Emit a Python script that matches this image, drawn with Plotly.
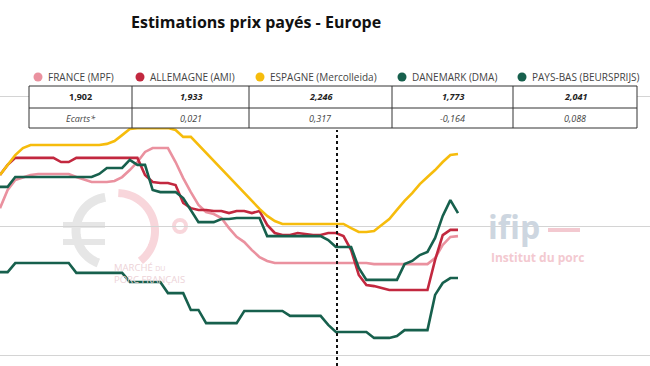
import math
import plotly.graph_objects as go

W, H = 650, 366

# ---------------- data ----------------
semaines = list(range(61))

france = [2.069, 2.139, 2.178, 2.189, 2.197, 2.201, 2.201, 2.201, 2.201, 2.201,
          2.189, 2.178, 2.170, 2.170, 2.170, 2.174, 2.189, 2.216, 2.247, 2.286,
          2.301, 2.301, 2.301, 2.247, 2.185, 2.131, 2.081, 2.054, 2.046, 2.031,
          1.992, 1.958, 1.938, 1.907, 1.880, 1.865, 1.857, 1.857, 1.857, 1.857,
          1.857, 1.857, 1.857, 1.857, 1.857, 1.857, 1.857, 1.857, 1.857, 1.853,
          1.853, 1.853, 1.853, 1.853, 1.853, 1.853, 1.853, 1.876, 1.927, 1.958,
          1.961]

allemagne = [2.197, 2.236, 2.263, 2.263, 2.263, 2.263, 2.263, 2.263, 2.247, 2.247,
             2.263, 2.263, 2.263, 2.263, 2.263, 2.263, 2.263, 2.263, 2.263, 2.197,
             2.170, 2.166, 2.166, 2.158, 2.089, 2.069, 2.062, 2.062, 2.058, 2.058,
             2.050, 2.058, 2.058, 2.050, 2.058, 2.004, 1.973, 1.965, 1.965, 1.973,
             1.969, 1.965, 1.965, 1.973, 1.973, 1.961, 1.907, 1.811, 1.772, 1.768,
             1.761, 1.753, 1.753, 1.753, 1.753, 1.753, 1.753, 1.869, 1.965, 1.985,
             1.985]

espagne = [2.197, 2.236, 2.274, 2.301, 2.313, 2.313, 2.313, 2.313, 2.313, 2.313,
           2.313, 2.313, 2.313, 2.313, 2.317, 2.328, 2.351, 2.375, 2.378, 2.378,
           2.378, 2.378, 2.378, 2.371, 2.344, 2.344, 2.313, 2.282, 2.251, 2.220,
           2.189, 2.158, 2.127, 2.097, 2.066, 2.039, 2.019, 2.008, 2.008, 2.008,
           2.008, 2.008, 2.008, 2.008, 2.008, 2.008, 1.992, 1.977, 1.977, 1.981,
           2.004, 2.027, 2.062, 2.097, 2.127, 2.162, 2.189, 2.216, 2.247, 2.274,
           2.278]

danemark = [1.822, 1.822, 1.857, 1.857, 1.857, 1.857, 1.857, 1.857, 1.857, 1.857,
            1.819, 1.819, 1.819, 1.819, 1.819, 1.819, 1.819, 1.784, 1.784, 1.784,
            1.784, 1.784, 1.741, 1.741, 1.741, 1.676, 1.676, 1.625, 1.625, 1.625,
            1.625, 1.625, 1.672, 1.672, 1.672, 1.672, 1.672, 1.672, 1.653, 1.653,
            1.653, 1.653, 1.653, 1.618, 1.591, 1.591, 1.591, 1.591, 1.591, 1.568,
            1.568, 1.568, 1.575, 1.598, 1.598, 1.598, 1.598, 1.734, 1.780, 1.799,
            1.799]

pays_bas = [2.151, 2.151, 2.189, 2.189, 2.189, 2.189, 2.189, 2.189, 2.189, 2.189,
            2.189, 2.189, 2.189, 2.201, 2.224, 2.224, 2.224, 2.255, 2.236, 2.236,
            2.139, 2.131, 2.131, 2.131, 2.108, 2.062, 2.015, 2.015, 2.015, 2.027,
            2.027, 2.031, 2.031, 2.031, 2.031, 1.961, 1.961, 1.961, 1.961, 1.961,
            1.961, 1.961, 1.961, 1.946, 1.919, 1.919, 1.919, 1.838, 1.792, 1.792,
            1.792, 1.792, 1.792, 1.853, 1.865, 1.888, 1.900, 1.954, 2.039, 2.100,
            2.050]

pays = ["FRANCE (MPF)", "ALLEMAGNE (AMI)", "ESPAGNE (Mercolleida)",
        "DANEMARK (DMA)", "PAYS-BAS (BEURSPRIJS)"]
series = [france, allemagne, espagne, danemark, pays_bas]
couleurs = ["#ea919f", "#c2283f", "#f6bc0c", "#17604d", "#17604d"]

prix_table = ["1,902", "1,933", "2,246", "1,773", "2,041"]
ecarts = ["Ecarts*", "0,021", "0,317", "-0,164", "0,088"]

semaine_repere = 44.15

# ---------------- helpers (pixel -> paper) ----------------
def px(x):
    return x / W

def py(y):
    return 1 - y / H

fig = go.Figure()
for nom, vals, col in zip(pays, series, couleurs):
    fig.add_trace(go.Scatter(x=semaines, y=vals, mode="lines", name=nom,
                             line=dict(color=col, width=2.6),
                             showlegend=False, hoverinfo="skip"))

shapes = []
annotations = []

# watermark: euro logo
def arc_path(cx, cy, r, a0, a1, n=48):
    pts = []
    for k in range(n + 1):
        a = math.radians(a0 + (a1 - a0) * k / n)
        pts.append((px(cx + r * math.cos(a)), py(cy - r * math.sin(a))))
    return "M " + " L ".join(f"{x:.5f},{y:.5f}" for x, y in pts)

shapes.append(dict(type="path", xref="paper", yref="paper", layer="below",
                   path=arc_path(110, 231, 34, 98, 250),
                   line=dict(color="#e6e6e6", width=9)))
for (y0, y1) in [(222, 228), (239, 245)]:
    shapes.append(dict(type="rect", xref="paper", yref="paper", layer="below",
                       x0=px(63), x1=px(105), y0=py(y1), y1=py(y0),
                       fillcolor="#e6e6e6", line=dict(width=0)))
shapes.append(dict(type="path", xref="paper", yref="paper", layer="below",
                   path=arc_path(117, 231, 38, 88, -52),
                   line=dict(color="#f8d6db", width=8)))
shapes.append(dict(type="circle", xref="paper", yref="paper", layer="below",
                   x0=px(174), x1=px(186), y0=py(232), y1=py(220),
                   line=dict(color="#f8d6db", width=4)))
annotations.append(dict(text="MARCHÉ <span style='font-size:7px'>DU</span><br>PORC FRANÇAIS",
                        x=px(112), y=py(273), xref="paper", yref="paper",
                        xanchor="left", yanchor="middle", align="left", showarrow=False,
                        font=dict(family="Open Sans", size=9.5, color="#edd3d8")))

# watermark: ifip
annotations.append(dict(text="<b>ifip</b>", x=px(486), y=py(226), xref="paper", yref="paper",
                        xanchor="left", yanchor="middle", showarrow=False,
                        font=dict(family="Open Sans", size=32, color="#cdd6e0")))
shapes.append(dict(type="line", xref="paper", yref="paper", layer="below",
                   x0=px(548), x1=px(580), y0=py(230), y1=py(230),
                   line=dict(color="#f3c9d0", width=4)))
annotations.append(dict(text="<b>Institut du porc</b>", x=px(489), y=py(257),
                        xref="paper", yref="paper", xanchor="left", yanchor="middle",
                        showarrow=False,
                        font=dict(family="Open Sans", size=12, color="#f3c9d0")))

# vertical dotted marker
shapes.append(dict(type="line", xref="x", yref="paper",
                   x0=semaine_repere, x1=semaine_repere, y0=0, y1=py(130),
                   line=dict(color="#111111", width=2, dash="dot")))

# title
annotations.append(dict(text="<b>Estimations prix payés - Europe</b>",
                        x=px(256), y=py(22), xref="paper", yref="paper",
                        xanchor="center", yanchor="middle", showarrow=False,
                        font=dict(family="Open Sans", size=16, color="#111111")))

# legend
legend_x = [38, 140, 260, 402, 522]
for lx, nom, col in zip(legend_x, pays, couleurs):
    shapes.append(dict(type="circle", xref="paper", yref="paper",
                       x0=px(lx - 4.5), x1=px(lx + 4.5), y0=py(81.5), y1=py(72.5),
                       fillcolor=col, line=dict(width=0)))
    annotations.append(dict(text=nom, x=px(lx + 8), y=py(77), xref="paper", yref="paper",
                            xanchor="left", yanchor="middle", showarrow=False,
                            font=dict(family="Open Sans", size=10, color="#444444")))

# table
tx0, tx1, ty0, tmid, ty1 = 29, 637, 86, 108, 128
col_edges = [29, 132, 249, 392, 513, 637]
shapes.append(dict(type="rect", xref="paper", yref="paper", layer="above",
                   x0=px(tx0), x1=px(tx1), y0=py(ty1), y1=py(ty0),
                   fillcolor="white", line=dict(color="#333333", width=1)))
shapes.append(dict(type="line", xref="paper", yref="paper",
                   x0=px(tx0), x1=px(tx1), y0=py(tmid), y1=py(tmid),
                   line=dict(color="#333333", width=1)))
for cx in col_edges[1:-1]:
    shapes.append(dict(type="line", xref="paper", yref="paper",
                       x0=px(cx), x1=px(cx), y0=py(ty1), y1=py(ty0),
                       line=dict(color="#333333", width=1)))
for k in range(5):
    cxm = (col_edges[k] + col_edges[k + 1]) / 2
    t1 = f"<b>{prix_table[k]}</b>" if k == 0 else f"<b><i>{prix_table[k]}</i></b>"
    annotations.append(dict(text=t1, x=px(cxm), y=py(97), xref="paper", yref="paper",
                            xanchor="center", yanchor="middle", showarrow=False,
                            font=dict(family="Open Sans", size=9, color="#222222")))
    annotations.append(dict(text=f"<i>{ecarts[k]}</i>", x=px(cxm), y=py(118.5),
                            xref="paper", yref="paper",
                            xanchor="center", yanchor="middle", showarrow=False,
                            font=dict(family="Open Sans", size=9, color="#444444")))

fig.update_layout(
    width=W, height=H,
    margin=dict(l=0, r=0, t=0, b=0, pad=0),
    paper_bgcolor="white", plot_bgcolor="white",
    xaxis=dict(range=[0, W / (458 / 60)], showgrid=False, zeroline=False,
               showticklabels=False, showline=False, ticks=""),
    yaxis=dict(range=[1.4595, 2.8726], tick0=0, dtick=0.5, showgrid=True,
               gridcolor="#d4d4d4", gridwidth=1, zeroline=False,
               showticklabels=False, showline=False, ticks=""),
    shapes=shapes, annotations=annotations,
    showlegend=False,
)

fig.write_html("out.html", config={"displayModeBar": False},
               post_script="document.body.style.margin='0px';document.body.style.overflow='hidden';")
